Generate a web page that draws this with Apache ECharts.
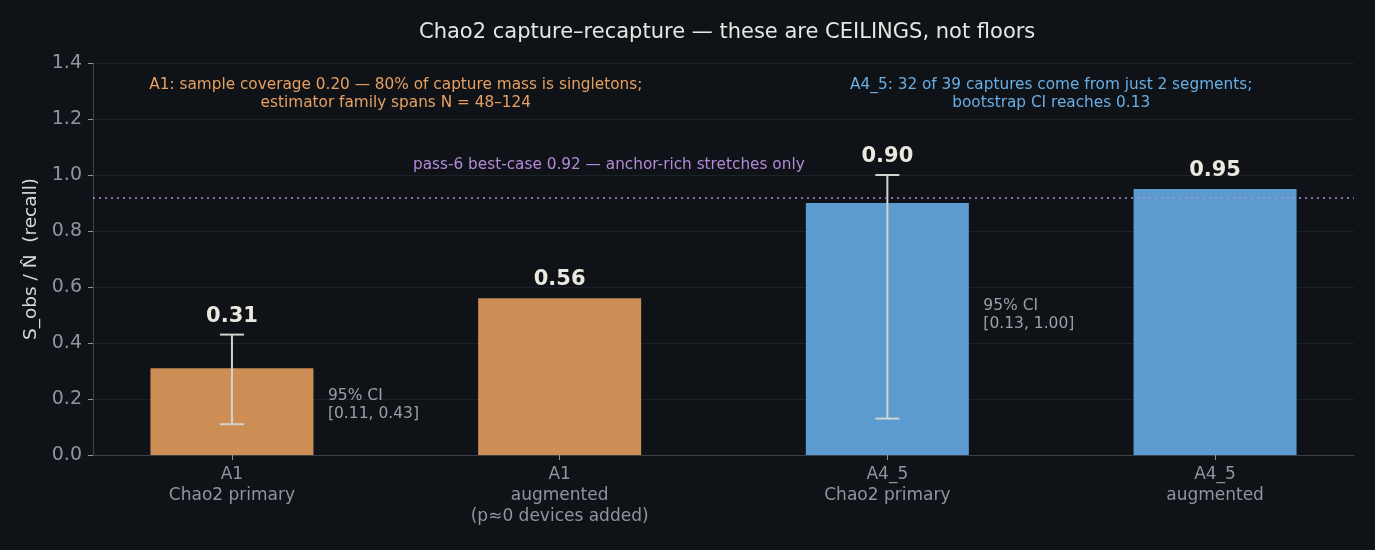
<!DOCTYPE html>
<html lang="en">
<head>
<meta charset="UTF-8">
<title>Chao2 capture-recapture</title>
<script src="https://cdn.jsdelivr.net/npm/echarts@6/dist/echarts.min.js"></script>
<style>
  html, body { margin: 0; padding: 0; background: #0f1317; }
  #main { width: 1375px; height: 550px; }
</style>
</head>
<body>
<div id="main"></div>
<script>
// data
var categories = ['A1\nChao2 primary', 'A1\naugmented\n(p\u22480 devices added)', 'A4_5\nChao2 primary', 'A4_5\naugmented'];
var recall = [0.31, 0.56, 0.90, 0.95];
var barColors = ['#cd8e55', '#cd8e55', '#5b9bd0', '#5b9bd0'];
var ciBars = [[0, 0.11, 0.43], [2, 0.13, 1.00]];
var ciNotes = [[0.293, 0.18, '95% CI\n[0.11, 0.43]'], [2.293, 0.50, '95% CI\n[0.13, 1.00]']];
var bestCase = 0.92;
var notes = [
  [0.5, 1.29, 'A1: sample coverage 0.20 \u2014 80% of capture mass is singletons;\nestimator family spans N = 48\u2013124', '#e8a061'],
  [2.5, 1.29, 'A4_5: 32 of 39 captures come from just 2 segments;\nbootstrap CI reaches 0.13', '#6aaee6'],
  [1.15, 1.035, 'pass-6 best-case 0.92 \u2014 anchor-rich stretches only', '#b48ad8']
];

var font = 'DejaVu Sans';
var chart = echarts.init(document.getElementById('main'));

// top of each label: above error bar if there is one
var labelPts = recall.map(function (v, i) {
  var top = v;
  ciBars.forEach(function (c) { if (c[0] === i) top = Math.max(top, c[2]); });
  return [i, top, v.toFixed(2)];
});

var option = {
  backgroundColor: '#0f1317',
  animation: false,
  title: {
    text: 'Chao2 capture\u2013recapture \u2014 these are CEILINGS, not floors',
    left: 414,
    top: 17,
    textStyle: { color: '#e6e6e2', fontSize: 21, fontWeight: 'normal', fontFamily: font }
  },
  grid: { left: 93, right: 21, top: 63, bottom: 95 },
  xAxis: {
    type: 'value',
    min: -0.424,
    max: 3.424,
    splitLine: { show: false },
    axisLine: { onZero: false, lineStyle: { color: '#3a4048', width: 1.2 } },
    axisTick: { show: true, customValues: [0, 1, 2, 3], length: 5, lineStyle: { color: '#8e959e' } },
    axisLabel: {
      customValues: [0, 1, 2, 3],
      formatter: function (v) { return categories[Math.round(v)]; },
      color: '#8e959e',
      fontSize: 17,
      lineHeight: 21,
      margin: 9,
      fontFamily: font
    }
  },
  yAxis: {
    type: 'value',
    min: 0,
    max: 1.4,
    interval: 0.2,
    name: 'S_obs / N\u0302  (recall)',
    nameLocation: 'middle',
    nameGap: 51,
    nameTextStyle: { color: '#d8d8d4', fontSize: 18.5, fontFamily: font },
    axisLine: { show: true, onZero: false, lineStyle: { color: '#3a4048', width: 1.2 } },
    axisTick: { show: true, length: 5, lineStyle: { color: '#8e959e' } },
    axisLabel: {
      color: '#8e959e',
      fontSize: 19,
      margin: 11,
      fontFamily: font,
      formatter: function (v) { return v.toFixed(1); }
    },
    splitLine: { lineStyle: { color: '#1c2228', width: 1 } }
  },
  series: [
    {
      type: 'bar',
      barWidth: 163,
      data: recall.map(function (v, i) {
        return { value: [i, v], itemStyle: { color: barColors[i] } };
      }),
      markLine: {
        silent: true,
        symbol: ['none', 'none'],
        label: { show: false },
        lineStyle: { color: '#b48ad8', type: [2, 4], width: 1.7 },
        data: [{ yAxis: bestCase }]
      },
      z: 2
    },
    {
      type: 'custom',
      data: ciBars,
      encode: { x: 0, y: [1, 2] },
      renderItem: function (params, api) {
        var lo = api.coord([api.value(0), api.value(1)]);
        var hi = api.coord([api.value(0), api.value(2)]);
        var w = 12;
        var style = { stroke: '#d4d2cc', lineWidth: 2 };
        return {
          type: 'group',
          children: [
            { type: 'line', shape: { x1: lo[0], y1: lo[1], x2: hi[0], y2: hi[1] }, style: style },
            { type: 'line', shape: { x1: lo[0] - w, y1: lo[1], x2: lo[0] + w, y2: lo[1] }, style: style },
            { type: 'line', shape: { x1: hi[0] - w, y1: hi[1], x2: hi[0] + w, y2: hi[1] }, style: style }
          ]
        };
      },
      z: 3
    },
    {
      type: 'scatter',
      symbolSize: 0,
      itemStyle: { opacity: 1 },
      data: labelPts,
      label: {
        show: true,
        position: 'top',
        distance: 8,
        formatter: function (p) { return p.value[2]; },
        color: '#ebe8e0',
        fontSize: 21,
        fontWeight: 'bold',
        fontFamily: font
      },
      z: 4
    },
    {
      type: 'scatter',
      symbolSize: 0,
      itemStyle: { opacity: 1 },
      data: ciNotes,
      label: {
        show: true,
        position: 'right',
        distance: 0,
        align: 'left',
        formatter: function (p) { return p.value[2]; },
        color: '#9aa0a8',
        fontSize: 15.5,
        lineHeight: 18,
        fontFamily: font
      },
      z: 4
    },
    {
      type: 'scatter',
      symbolSize: 0,
      itemStyle: { opacity: 1 },
      data: notes.map(function (n) {
        return { value: [n[0], n[1], n[2]], label: { color: n[3] } };
      }),
      label: {
        show: true,
        position: 'inside',
        formatter: function (p) { return p.value[2]; },
        fontSize: 15.3,
        lineHeight: 18,
        align: 'center',
        fontFamily: font
      },
      z: 4
    }
  ]
};

chart.setOption(option);
</script>
</body>
</html>
